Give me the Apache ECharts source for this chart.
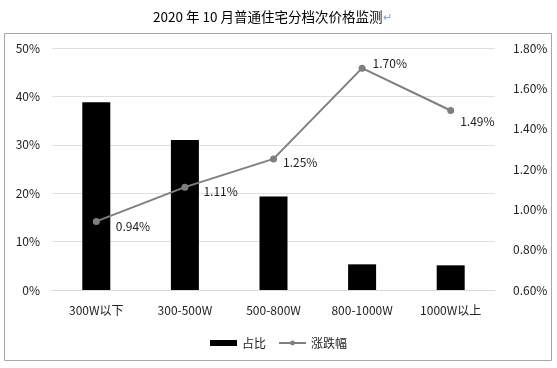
<!DOCTYPE html>
<html><head><meta charset="utf-8">
<script src="https://cdn.jsdelivr.net/npm/echarts@6/dist/echarts.min.js"></script>
<style>html,body{margin:0;padding:0;background:#fff}#c{width:557px;height:368px}</style>
</head><body><div id="c"></div>
<script>
const categories = ['300W以下','300-500W','500-800W','800-1000W','1000W以上'];
const shareValues = [38.8, 31.0, 19.3, 5.3, 5.1];
const changeValues = [0.94, 1.11, 1.25, 1.70, 1.49];
const leftTicks = {min:0, max:50, interval:10};
const rightTicks = {min:0.6, max:1.8, interval:0.2};
const font = '"Noto Sans CJK SC", "Noto Sans", sans-serif';
const labelOffsets = [[11,5],[10,4],[1,4],[2,-5],[1,11]];
const chart = echarts.init(document.getElementById('c'));
chart.setOption({
  animation:false,
  title:{text:'2020 年 10 月普通住宅分档次价格监测{m|↵}', left:148, top:5,
    textStyle:{fontFamily:font, fontSize:13.5, fontWeight:'normal', color:'#000', rich:{m:{color:'#8aa4c8', fontSize:11}}}},
  graphic:[{type:'rect', shape:{x:4.5,y:33.5,width:547,height:327}, style:{fill:'none', stroke:'#a6a6a6', lineWidth:1}}],
  legend:{bottom:14, left:'center', itemGap:12, textStyle:{fontFamily:font, fontSize:12, color:'#222'},
    data:[{name:'占比', icon:'rect', itemStyle:{color:'#000'}}, {name:'涨跌幅'}], itemWidth:27, itemHeight:6},
  grid:{left:52, right:62, top:48, bottom:78},
  xAxis:{type:'category', data:categories, axisTick:{show:false},
    axisLine:{lineStyle:{color:'#d9d9d9'}},
    axisLabel:{fontFamily:font, fontSize:12, color:'#222', margin:14, interval:0}},
  yAxis:[
    {type:'value', min:leftTicks.min, max:leftTicks.max, interval:leftTicks.interval,
     axisLabel:{formatter:'{value}%', fontFamily:font, fontSize:12, color:'#222', margin:12},
     splitLine:{lineStyle:{color:'#e0e0e0'}}, axisLine:{show:false}, axisTick:{show:false}},
    {type:'value', min:rightTicks.min, max:rightTicks.max, interval:rightTicks.interval,
     axisLabel:{formatter:v=>v.toFixed(2)+'%', fontFamily:font, fontSize:12, color:'#222', margin:18},
     splitLine:{show:false}, axisLine:{show:false}, axisTick:{show:false}}
  ],
  series:[
    {name:'占比', type:'bar', data:shareValues, barWidth:28, itemStyle:{color:'#000'}},
    {name:'涨跌幅', type:'line', yAxisIndex:1, data:changeValues.map((v,i)=>({value:v,
        label:{position:'right', offset:labelOffsets[i]}})),
     symbol:'circle', symbolSize:7, lineStyle:{color:'#7f7f7f', width:2}, itemStyle:{color:'#7f7f7f'},
     label:{show:true, formatter:p=>p.value.toFixed(2)+'%', fontFamily:font, fontSize:12, color:'#222'}}
  ]
});
</script></body></html>
